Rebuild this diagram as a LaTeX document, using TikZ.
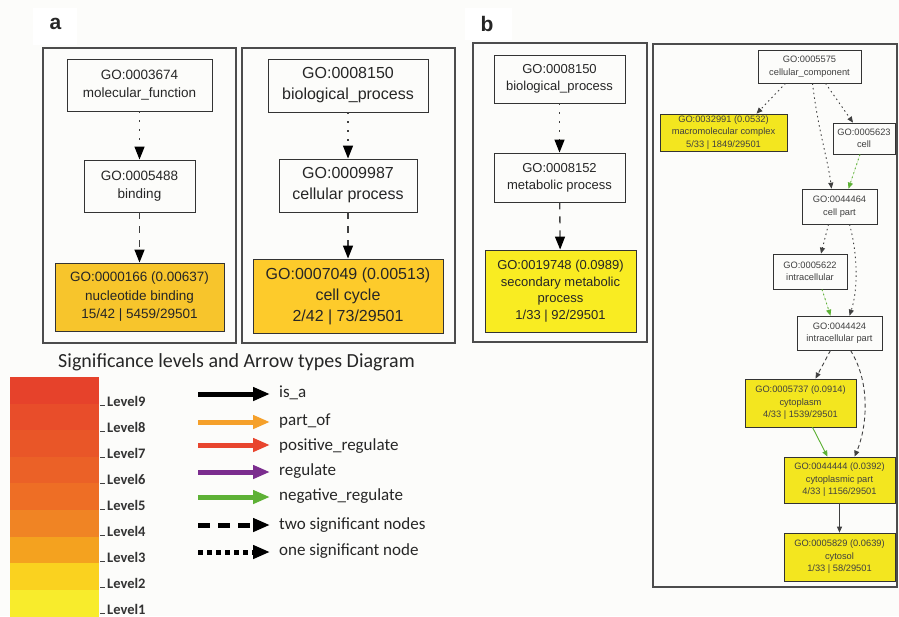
\documentclass[tikz,border=0pt]{standalone}
\usepackage{fontspec}
\setmainfont{Liberation Sans}
\newfontfamily\calib{Carlito}
\usetikzlibrary{arrows.meta}
\definecolor{bgc}{HTML}{FCFCFA}
\definecolor{yelA}{HTML}{F7C52C}
\definecolor{yelB}{HTML}{FDCB2B}
\definecolor{yelC}{HTML}{F9EC22}
\definecolor{yelD}{HTML}{F3E61F}
\definecolor{Lnine}{HTML}{E6422B}
\definecolor{Leight}{HTML}{E84D2A}
\definecolor{Lseven}{HTML}{E95628}
\definecolor{Lsix}{HTML}{EB6127}
\definecolor{Lfive}{HTML}{EE6E25}
\definecolor{Lfour}{HTML}{F08424}
\definecolor{Lthree}{HTML}{F4A21F}
\definecolor{Ltwo}{HTML}{FAD21F}
\definecolor{Lone}{HTML}{F8EC2C}
\definecolor{cpart}{HTML}{F5A02A}
\definecolor{cpos}{HTML}{E8452E}
\definecolor{creg}{HTML}{7B2D8E}
\definecolor{cneg}{HTML}{5DB135}
\definecolor{gline}{HTML}{404040}
\begin{document}
\begin{tikzpicture}[x=1pt,y=-1pt,
  frame/.style={draw=black!70, line width=1.1pt},
  gobox/.style={draw=black!80, line width=0.9pt, align=center, inner sep=0pt, text=black!85},
  fa/.style={font=\fontsize{13.5}{18.5}\selectfont},
  fb/.style={font=\fontsize{16}{21}\selectfont},
  fc/.style={font=\fontsize{13}{17}\selectfont},
  fd/.style={font=\fontsize{9.3}{12.5}\selectfont, line width=0.7pt, text=black!75},
  bigtip/.style={-{Triangle[length=13pt,width=10pt,fill=black,color=black]}, gline, line width=1.3pt},
  dotbig/.style={bigtip, dash pattern=on 2pt off 7pt},
  dashbig/.style={bigtip, dash pattern=on 7pt off 7pt},
  smalltip/.style={-{Triangle[length=6pt,width=5pt]}, black!75, line width=0.9pt},
  dotsm/.style={smalltip, dash pattern=on 1.5pt off 3.2pt},
  dashsm/.style={smalltip, dash pattern=on 4pt off 3pt},
  greensm/.style={smalltip, draw=cneg, fill=cneg},
  leg/.style={font=\calib\fontsize{17}{20}\selectfont, anchor=west, inner sep=0pt, text=black!85},
  lvl/.style={font=\calib\bfseries\fontsize{14.5}{17}\selectfont, anchor=west, inner sep=0pt, text=black!80},
  legarrow/.style={line width=5pt, -{Triangle[length=17pt,width=13pt]}},
  plabel/.style={font=\bfseries\fontsize{21}{24}\selectfont, text=black!85}
]
\useasboundingbox (0,0) rectangle (899,616);
\fill[bgc] (0,0) rectangle (899,616);

% panel labels
\fill[white] (33,8) rectangle (77,45);
\node[plabel] (la) at (55.5,24) {a};
\fill[white] (465,8) rectangle (512,40);
\node[plabel] (lb) at (487,24) {b};

% frames
\draw[frame] (43,48) rectangle (236,343);
\draw[frame] (242,48) rectangle (455,343);
\draw[frame] (473,43) rectangle (647,342);
\draw[frame] (653,44) rectangle (897,587);

% panel a left
\node[gobox, fa, minimum width=145, minimum height=52] (a1) at (139.5,85) {GO:0003674\\molecular\_function};
\node[gobox, fa, minimum width=111, minimum height=52] (a2) at (139.5,186) {GO:0005488\\binding};
\node[gobox, fa, fill=yelA, minimum width=169, minimum height=68] (a3) at (139.5,297) {GO:0000166 (0.00637)\\nucleotide binding\\15/42 | 5459/29501};
\draw[dotbig] (a1) -- (a2);
\draw[dashbig] (a2) -- (a3);

% panel a right
\node[gobox, fb, minimum width=160, minimum height=53] (b1) at (348,85.5) {GO:0008150\\biological\_process};
\node[gobox, fb, minimum width=138, minimum height=53] (b2) at (348,185.5) {GO:0009987\\cellular process};
\node[gobox, fb, fill=yelB, minimum width=190, minimum height=74] (b3) at (348,296) {GO:0007049 (0.00513)\\cell cycle\\2/42 | 73/29501};
\draw[dotbig] (b1) -- (b2);
\draw[dashbig] (b2) -- (b3);

% panel b left
\node[gobox, fc, minimum width=131, minimum height=48] (c1) at (559.5,79) {GO:0008150\\biological\_process};
\node[gobox, fc, minimum width=131, minimum height=49] (c2) at (559.5,177.5) {GO:0008152\\metabolic process};
\node[gobox, fc, fill=yelC, minimum width=151, minimum height=82, font=\fontsize{13}{16.5}\selectfont] (c3) at (560.5,291) {GO:0019748 (0.0989)\\secondary metabolic\\process\\1/33 | 92/29501};
\draw[dotbig] (c1) -- (c2);
\draw[dashbig] (c2) -- (c3);

% panel b right
\node[gobox, fd, minimum width=103, minimum height=33] (d1) at (809.5,66.5) {GO:0005575\\cellular\_component};
\node[gobox, fd, fill=yelD, minimum width=127, minimum height=37] (d2) at (723.5,132.5) {GO:0032991 (0.0532)\\macromolecular complex\\5/33 | 1849/29501};
\node[gobox, fd, minimum width=62, minimum height=31] (d3) at (864,138.5) {GO:0005623\\cell};
\node[gobox, fd, minimum width=75, minimum height=35] (d4) at (839.5,206.5) {GO:0044464\\cell part};
\node[gobox, fd, minimum width=74, minimum height=35] (d5) at (810,271.5) {GO:0005622\\intracellular};
\node[gobox, fd, minimum width=85, minimum height=34] (d6) at (839.5,333) {GO:0044424\\intracellular part};
\node[gobox, fd, fill=yelD, minimum width=111, minimum height=48] (d7) at (800.5,403) {GO:0005737 (0.0914)\\cytoplasm\\4/33 | 1539/29501};
\node[gobox, fd, fill=yelD, minimum width=111, minimum height=46] (d8) at (839.5,480) {GO:0044444 (0.0392)\\cytoplasmic part\\4/33 | 1156/29501};
\node[gobox, fd, fill=yelD, minimum width=111, minimum height=48] (d9) at (839.5,557) {GO:0005829 (0.0639)\\cytosol\\1/33 | 58/29501};

\draw[dotsm] ([xshift=-24]d1.south) -- ([xshift=33]d2.north);
\draw[dotsm] ([xshift=16]d1.south) -- ([xshift=-11]d3.north);
\draw[dotsm] ([xshift=3]d1.south) .. controls (818,130) and (828,160) .. ([xshift=-8]d4.north);
\draw[dotsm, greensm] ([xshift=-4]d3.south) -- ([xshift=9]d4.north);
\draw[dotsm] ([xshift=-11]d4.south) -- ([xshift=11]d5.north);
\draw[dotsm] ([xshift=10]d4.south) .. controls (858,255) and (858,290) .. ([xshift=10]d6.north);
\draw[dotsm, greensm] ([xshift=12]d5.south) -- ([xshift=-9]d6.north);
\draw[dashsm] ([xshift=-9]d6.south) -- ([xshift=15]d7.north);
\draw[dashsm] ([xshift=11]d6.south) .. controls (872,385) and (866,430) .. ([xshift=15]d8.north);
\draw[smalltip, greensm] ([xshift=12]d7.south) -- ([xshift=-12]d8.north);
\draw[smalltip] (d8) -- (d9);

% legend title
\node[font=\calib\fontsize{20}{24}\selectfont, text=black!85] (title) at (236.5,362) {Significance levels and Arrow types Diagram};

% colour bar
\foreach \c [count=\i from 0] in {Lnine,Leight,Lseven,Lsix,Lfive,Lfour,Lthree,Ltwo,Lone}
  \fill[\c] (10,{377+\i*26.6}) rectangle (99,{377+(\i+1)*26.6+0.4});
\foreach \n [count=\i from 0] in {9,8,7,6,5,4,3,2,1} {
  \node[lvl] (lv\n) at (107,{401+\i*26}) {Level\n};
  \draw[black!75, line width=0.9pt] ([xshift=-7,yshift=-4]lv\n.west) -- ([xshift=-2,yshift=-4]lv\n.west);
}

% arrow legend
\node[leg] (t1) at (279,393) {is\_a};
\node[leg] (t2) at (279,421) {part\_of};
\node[leg] (t3) at (279,446) {positive\_regulate};
\node[leg] (t4) at (279,471) {regulate};
\node[leg] (t5) at (279,496) {negative\_regulate};
\node[leg] (t6) at (279,525) {two significant nodes};
\node[leg] (t7) at (279,551) {one significant node};
\foreach \k/\y in {1/394,2/422,3/445,4/472,5/497,6/525,7/552} {
  \coordinate (s\k) at (198,\y);
  \coordinate (e\k) at (270,\y);
}
\draw[legarrow, black] (s1) -- (e1);
\draw[legarrow, cpart] (s2) -- (e2);
\draw[legarrow, cpos] (s3) -- (e3);
\draw[legarrow, creg] (s4) -- (e4);
\draw[legarrow, cneg] (s5) -- (e5);
\draw[legarrow, black, dash pattern=on 12pt off 8pt] (s6) -- (e6);
\draw[legarrow, black, dash pattern=on 5pt off 4pt] (s7) -- (e7);
\end{tikzpicture}
\end{document}
